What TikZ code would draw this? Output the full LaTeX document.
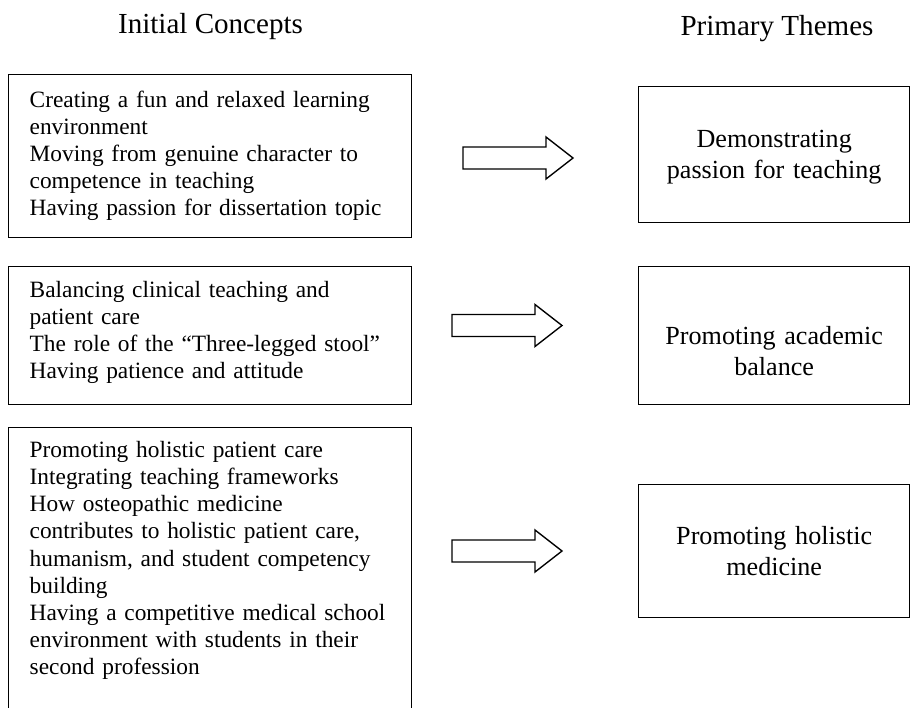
\documentclass[tikz,border=0pt]{standalone}
\usepackage{fontspec}
\setmainfont{Liberation Serif}
\newlength\pxu
\setlength\pxu{0.5092pt}
\begin{document}
\begin{tikzpicture}[x=\pxu, y=-\pxu,
  frame/.style={draw, line width=0.7pt},
  conbox/.style={frame, anchor=north west, inner xsep=21\pxu, inner ysep=0pt,
    text width=361\pxu, align=left, font=\fontsize{11.9pt}{13.8pt}\selectfont},
  themebox/.style={frame, anchor=north west, inner sep=0pt,
    text width=271\pxu, align=center, font=\fontsize{13.3pt}{15.8pt}\selectfont},
  header/.style={anchor=base, inner sep=0pt, font=\fontsize{14.8pt}{17pt}\selectfont},
  blockarrow/.pic={\draw[line width=0.7pt] (0,-11) -- (83,-11) -- (83,-21) -- (110,0) -- (83,21) -- (83,11) -- (0,11) -- cycle;}
]
\useasboundingbox (0,0) rectangle (910,707);
\clip (0,0) rectangle (910,707);

\node[header] (h1) at (210.5,33) {Initial Concepts};
\node[header] (h2) at (777,35) {Primary Themes};

\node[conbox, text height=32.7\pxu, text depth=130.3\pxu] (c1) at (8,74)
 {Creating a fun and relaxed learning\\environment\\Moving from genuine character to\\competence in teaching\\Having passion for dissertation topic};
\node[conbox, text height=31\pxu, text depth=107\pxu] (c2) at (8,266)
 {Balancing clinical teaching and\\patient care\\The role of the ``Three-legged stool''\\Having patience and attitude};
\node[conbox, text height=30\pxu, text depth=303\pxu] (c3) at (8,427)
 {Promoting holistic patient care\\Integrating teaching frameworks\\How osteopathic medicine\\contributes to holistic patient care,\\humanism, and student competency\\building\\Having a competitive medical school\\environment with students in their\\second profession};

\node[themebox, text height=61\pxu, text depth=75\pxu] (t1) at (638,86)
 {Demonstrating\\passion for teaching};
\node[themebox, text height=78\pxu, text depth=60\pxu] (t2) at (638,266)
 {Promoting academic\\balance};
\node[themebox, text height=60\pxu, text depth=73\pxu] (t3) at (638,484)
 {Promoting holistic\\medicine};

\pic (a1) at (463,158) {blockarrow};
\pic (a2) at (452,325.5) {blockarrow};
\pic (a3) at (452,551) {blockarrow};
\end{tikzpicture}
\end{document}
